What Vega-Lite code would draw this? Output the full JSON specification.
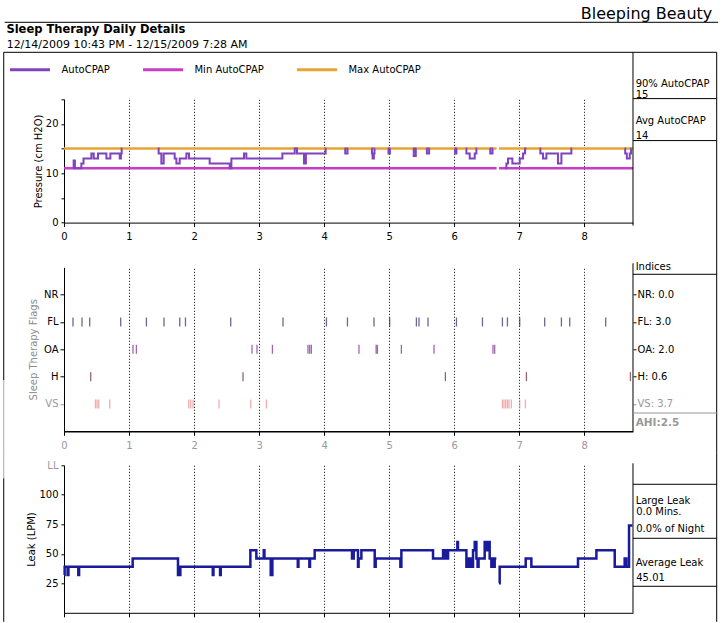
{
  "$schema": "https://vega.github.io/schema/vega-lite/v6.json",
  "padding": {"left": 3, "top": 5.3, "right": 0, "bottom": 0},
  "spacing": -2,
  "config": {
    "font": "DejaVu Sans",
    "view": {"stroke": null},
    "axis": {"domainColor": "black", "tickColor": "black", "labelColor": "black", "titleColor": "black", "labelFontSize": 10, "titleFontSize": 10, "titleFontWeight": "normal", "labelFont": "DejaVu Sans", "titleFont": "DejaVu Sans", "grid": false, "labelFlush": false, "labelOverlap": false},
    "text": {"font": "DejaVu Sans", "fontSize": 10, "align": "left", "baseline": "alphabetic", "color": "black"}
  },
  "resolve": {"scale": {"color": "independent"}, "legend": {"color": "independent"}},
  "datasets": {
    "pressure": [
      {"series": "Min AutoCPAP", "seg": "n1", "t": 0, "p": 11}, {"series": "Min AutoCPAP", "seg": "n1", "t": 6.652, "p": 11},
      {"series": "Min AutoCPAP", "seg": "n2", "t": 6.69, "p": 11}, {"series": "Min AutoCPAP", "seg": "n2", "t": 8.75, "p": 11},
      {"series": "Max AutoCPAP", "seg": "x1", "t": 0, "p": 15}, {"series": "Max AutoCPAP", "seg": "x1", "t": 6.652, "p": 15},
      {"series": "Max AutoCPAP", "seg": "x2", "t": 6.69, "p": 15}, {"series": "Max AutoCPAP", "seg": "x2", "t": 8.75, "p": 15},
      {"series": "AutoCPAP", "seg": "a", "t": 0.139, "p": 11}, {"series": "AutoCPAP", "seg": "a", "t": 0.148, "p": 12.6}, {"series": "AutoCPAP", "seg": "a", "t": 0.168, "p": 11}, {"series": "AutoCPAP", "seg": "a", "t": 0.267, "p": 12}, {"series": "AutoCPAP", "seg": "a", "t": 0.3, "p": 13}, {"series": "AutoCPAP", "seg": "a", "t": 0.421, "p": 14}, {"series": "AutoCPAP", "seg": "a", "t": 0.457, "p": 13}, {"series": "AutoCPAP", "seg": "a", "t": 0.523, "p": 14}, {"series": "AutoCPAP", "seg": "a", "t": 0.652, "p": 13}, {"series": "AutoCPAP", "seg": "a", "t": 0.713, "p": 14}, {"series": "AutoCPAP", "seg": "a", "t": 0.857, "p": 13}, {"series": "AutoCPAP", "seg": "a", "t": 0.875, "p": 14}, {"series": "AutoCPAP", "seg": "a", "t": 0.887, "p": 15}, {"series": "AutoCPAP", "seg": "a", "t": 0.893, "p": 15},
      {"series": "AutoCPAP", "seg": "b", "t": 1.446, "p": 15}, {"series": "AutoCPAP", "seg": "b", "t": 1.455, "p": 14}, {"series": "AutoCPAP", "seg": "b", "t": 1.497, "p": 12}, {"series": "AutoCPAP", "seg": "b", "t": 1.533, "p": 14}, {"series": "AutoCPAP", "seg": "b", "t": 1.702, "p": 13}, {"series": "AutoCPAP", "seg": "b", "t": 1.728, "p": 12}, {"series": "AutoCPAP", "seg": "b", "t": 1.779, "p": 13}, {"series": "AutoCPAP", "seg": "b", "t": 1.882, "p": 14}, {"series": "AutoCPAP", "seg": "b", "t": 1.923, "p": 13}, {"series": "AutoCPAP", "seg": "b", "t": 2.24, "p": 12}, {"series": "AutoCPAP", "seg": "b", "t": 2.548, "p": 11}, {"series": "AutoCPAP", "seg": "b", "t": 2.574, "p": 13}, {"series": "AutoCPAP", "seg": "b", "t": 2.768, "p": 14}, {"series": "AutoCPAP", "seg": "b", "t": 2.804, "p": 13}, {"series": "AutoCPAP", "seg": "b", "t": 3.358, "p": 14}, {"series": "AutoCPAP", "seg": "b", "t": 3.548, "p": 15}, {"series": "AutoCPAP", "seg": "b", "t": 3.583, "p": 14}, {"series": "AutoCPAP", "seg": "b", "t": 3.69, "p": 12}, {"series": "AutoCPAP", "seg": "b", "t": 3.72, "p": 14}, {"series": "AutoCPAP", "seg": "b", "t": 4.024, "p": 15}, {"series": "AutoCPAP", "seg": "b", "t": 4.035, "p": 15},
      {"series": "AutoCPAP", "seg": "c", "t": 4.316, "p": 15}, {"series": "AutoCPAP", "seg": "c", "t": 4.325, "p": 14}, {"series": "AutoCPAP", "seg": "c", "t": 4.36, "p": 15}, {"series": "AutoCPAP", "seg": "c", "t": 4.368, "p": 15},
      {"series": "AutoCPAP", "seg": "d", "t": 4.727, "p": 15}, {"series": "AutoCPAP", "seg": "d", "t": 4.735, "p": 14}, {"series": "AutoCPAP", "seg": "d", "t": 4.745, "p": 13}, {"series": "AutoCPAP", "seg": "d", "t": 4.765, "p": 14}, {"series": "AutoCPAP", "seg": "d", "t": 4.775, "p": 15}, {"series": "AutoCPAP", "seg": "d", "t": 4.78, "p": 15},
      {"series": "AutoCPAP", "seg": "e", "t": 4.982, "p": 15}, {"series": "AutoCPAP", "seg": "e", "t": 4.99, "p": 14}, {"series": "AutoCPAP", "seg": "e", "t": 5.012, "p": 15}, {"series": "AutoCPAP", "seg": "e", "t": 5.019, "p": 15},
      {"series": "AutoCPAP", "seg": "f", "t": 5.367, "p": 15}, {"series": "AutoCPAP", "seg": "f", "t": 5.378, "p": 13.5}, {"series": "AutoCPAP", "seg": "f", "t": 5.41, "p": 15}, {"series": "AutoCPAP", "seg": "f", "t": 5.419, "p": 15},
      {"series": "AutoCPAP", "seg": "g", "t": 5.573, "p": 15}, {"series": "AutoCPAP", "seg": "g", "t": 5.58, "p": 14}, {"series": "AutoCPAP", "seg": "g", "t": 5.615, "p": 15}, {"series": "AutoCPAP", "seg": "g", "t": 5.624, "p": 15},
      {"series": "AutoCPAP", "seg": "h", "t": 6.008, "p": 15}, {"series": "AutoCPAP", "seg": "h", "t": 6.015, "p": 14}, {"series": "AutoCPAP", "seg": "h", "t": 6.035, "p": 15}, {"series": "AutoCPAP", "seg": "h", "t": 6.043, "p": 15},
      {"series": "AutoCPAP", "seg": "i", "t": 6.18, "p": 15}, {"series": "AutoCPAP", "seg": "i", "t": 6.188, "p": 14}, {"series": "AutoCPAP", "seg": "i", "t": 6.239, "p": 13}, {"series": "AutoCPAP", "seg": "i", "t": 6.316, "p": 14}, {"series": "AutoCPAP", "seg": "i", "t": 6.342, "p": 15}, {"series": "AutoCPAP", "seg": "i", "t": 6.35, "p": 15},
      {"series": "AutoCPAP", "seg": "j", "t": 6.546, "p": 15}, {"series": "AutoCPAP", "seg": "j", "t": 6.555, "p": 14}, {"series": "AutoCPAP", "seg": "j", "t": 6.59, "p": 15}, {"series": "AutoCPAP", "seg": "j", "t": 6.597, "p": 15},
      {"series": "AutoCPAP", "seg": "k", "t": 6.787, "p": 11}, {"series": "AutoCPAP", "seg": "k", "t": 6.803, "p": 12}, {"series": "AutoCPAP", "seg": "k", "t": 6.828, "p": 13}, {"series": "AutoCPAP", "seg": "k", "t": 6.895, "p": 12}, {"series": "AutoCPAP", "seg": "k", "t": 7.008, "p": 13}, {"series": "AutoCPAP", "seg": "k", "t": 7.059, "p": 14}, {"series": "AutoCPAP", "seg": "k", "t": 7.09, "p": 15}, {"series": "AutoCPAP", "seg": "k", "t": 7.111, "p": 15},
      {"series": "AutoCPAP", "seg": "l", "t": 7.315, "p": 15}, {"series": "AutoCPAP", "seg": "l", "t": 7.325, "p": 14}, {"series": "AutoCPAP", "seg": "l", "t": 7.366, "p": 13}, {"series": "AutoCPAP", "seg": "l", "t": 7.418, "p": 14}, {"series": "AutoCPAP", "seg": "l", "t": 7.596, "p": 12}, {"series": "AutoCPAP", "seg": "l", "t": 7.649, "p": 14}, {"series": "AutoCPAP", "seg": "l", "t": 7.802, "p": 15}, {"series": "AutoCPAP", "seg": "l", "t": 7.81, "p": 15},
      {"series": "AutoCPAP", "seg": "m", "t": 8.622, "p": 15}, {"series": "AutoCPAP", "seg": "m", "t": 8.63, "p": 14}, {"series": "AutoCPAP", "seg": "m", "t": 8.655, "p": 13}, {"series": "AutoCPAP", "seg": "m", "t": 8.7, "p": 14}, {"series": "AutoCPAP", "seg": "m", "t": 8.72, "p": 15}, {"series": "AutoCPAP", "seg": "m", "t": 8.725, "p": 15}
    ],
    "flags": [
      {"flag": "FL", "t": 0.138}, {"flag": "FL", "t": 0.277}, {"flag": "FL", "t": 0.395}, {"flag": "FL", "t": 0.872}, {"flag": "FL", "t": 1.267}, {"flag": "FL", "t": 1.538}, {"flag": "FL", "t": 1.78}, {"flag": "FL", "t": 1.868}, {"flag": "FL", "t": 2.564}, {"flag": "FL", "t": 3.368}, {"flag": "FL", "t": 4.036}, {"flag": "FL", "t": 4.359}, {"flag": "FL", "t": 4.767}, {"flag": "FL", "t": 5.008}, {"flag": "FL", "t": 5.419}, {"flag": "FL", "t": 5.459}, {"flag": "FL", "t": 5.598}, {"flag": "FL", "t": 6.035}, {"flag": "FL", "t": 6.435}, {"flag": "FL", "t": 6.742}, {"flag": "FL", "t": 6.819}, {"flag": "FL", "t": 7.008}, {"flag": "FL", "t": 7.392}, {"flag": "FL", "t": 7.649}, {"flag": "FL", "t": 7.777}, {"flag": "FL", "t": 8.33},
      {"flag": "OA", "t": 1.061}, {"flag": "OA", "t": 1.113}, {"flag": "OA", "t": 2.891}, {"flag": "OA", "t": 2.968}, {"flag": "OA", "t": 3.205}, {"flag": "OA", "t": 3.752}, {"flag": "OA", "t": 3.778}, {"flag": "OA", "t": 3.804}, {"flag": "OA", "t": 4.536}, {"flag": "OA", "t": 4.8}, {"flag": "OA", "t": 4.82}, {"flag": "OA", "t": 5.188}, {"flag": "OA", "t": 5.69}, {"flag": "OA", "t": 6.597}, {"flag": "OA", "t": 6.623},
      {"flag": "H", "t": 0.411}, {"flag": "H", "t": 2.753}, {"flag": "H", "t": 5.865}, {"flag": "H", "t": 7.111}, {"flag": "H", "t": 8.71},
      {"flag": "VS", "t": 0.483}, {"flag": "VS", "t": 0.508}, {"flag": "VS", "t": 0.534}, {"flag": "VS", "t": 0.703}, {"flag": "VS", "t": 1.918}, {"flag": "VS", "t": 1.949}, {"flag": "VS", "t": 1.984}, {"flag": "VS", "t": 2.384}, {"flag": "VS", "t": 2.872}, {"flag": "VS", "t": 3.113}, {"flag": "VS", "t": 6.742}, {"flag": "VS", "t": 6.766}, {"flag": "VS", "t": 6.792}, {"flag": "VS", "t": 6.819}, {"flag": "VS", "t": 6.843}, {"flag": "VS", "t": 6.88}, {"flag": "VS", "t": 7.008}, {"flag": "VS", "t": 7.096}
    ],
    "leak": [
      {"seg": 1, "t": 0.0, "v": 32}, {"seg": 1, "t": 0.01, "v": 39}, {"seg": 1, "t": 0.055, "v": 32}, {"seg": 1, "t": 0.068, "v": 39}, {"seg": 1, "t": 0.22, "v": 32}, {"seg": 1, "t": 0.232, "v": 39}, {"seg": 1, "t": 1.056, "v": 46}, {"seg": 1, "t": 1.753, "v": 32}, {"seg": 1, "t": 1.789, "v": 39}, {"seg": 1, "t": 2.288, "v": 32}, {"seg": 1, "t": 2.298, "v": 39}, {"seg": 1, "t": 2.4, "v": 32}, {"seg": 1, "t": 2.41, "v": 39}, {"seg": 1, "t": 2.866, "v": 53}, {"seg": 1, "t": 2.958, "v": 46}, {"seg": 1, "t": 3.072, "v": 53}, {"seg": 1, "t": 3.082, "v": 46}, {"seg": 1, "t": 3.179, "v": 32}, {"seg": 1, "t": 3.204, "v": 46}, {"seg": 1, "t": 3.595, "v": 39}, {"seg": 1, "t": 3.605, "v": 46}, {"seg": 1, "t": 3.773, "v": 39}, {"seg": 1, "t": 3.783, "v": 46}, {"seg": 1, "t": 3.855, "v": 53}, {"seg": 1, "t": 4.429, "v": 46}, {"seg": 1, "t": 4.455, "v": 53}, {"seg": 1, "t": 4.521, "v": 39}, {"seg": 1, "t": 4.53, "v": 46}, {"seg": 1, "t": 4.573, "v": 53}, {"seg": 1, "t": 4.778, "v": 39}, {"seg": 1, "t": 4.793, "v": 46}, {"seg": 1, "t": 5.173, "v": 39}, {"seg": 1, "t": 5.188, "v": 53}, {"seg": 1, "t": 5.675, "v": 46}, {"seg": 1, "t": 5.829, "v": 53}, {"seg": 1, "t": 5.838, "v": 46}, {"seg": 1, "t": 5.847, "v": 53}, {"seg": 1, "t": 5.856, "v": 46}, {"seg": 1, "t": 5.866, "v": 53}, {"seg": 1, "t": 5.876, "v": 46}, {"seg": 1, "t": 5.886, "v": 53}, {"seg": 1, "t": 5.896, "v": 46}, {"seg": 1, "t": 5.906, "v": 53}, {"seg": 1, "t": 6.049, "v": 60}, {"seg": 1, "t": 6.058, "v": 53}, {"seg": 1, "t": 6.188, "v": 39}, {"seg": 1, "t": 6.2, "v": 46}, {"seg": 1, "t": 6.212, "v": 39}, {"seg": 1, "t": 6.224, "v": 46}, {"seg": 1, "t": 6.236, "v": 39}, {"seg": 1, "t": 6.25, "v": 46}, {"seg": 1, "t": 6.264, "v": 39}, {"seg": 1, "t": 6.29, "v": 53}, {"seg": 1, "t": 6.316, "v": 60}, {"seg": 1, "t": 6.342, "v": 46}, {"seg": 1, "t": 6.36, "v": 39}, {"seg": 1, "t": 6.375, "v": 46}, {"seg": 1, "t": 6.469, "v": 60}, {"seg": 1, "t": 6.495, "v": 53}, {"seg": 1, "t": 6.52, "v": 60}, {"seg": 1, "t": 6.546, "v": 46}, {"seg": 1, "t": 6.572, "v": 39}, {"seg": 1, "t": 6.582, "v": 46}, {"seg": 1, "t": 6.592, "v": 39}, {"seg": 1, "t": 6.602, "v": 46}, {"seg": 1, "t": 6.612, "v": 39}, {"seg": 1, "t": 6.623, "v": 46}, {"seg": 1, "t": 6.649, "v": 46},
      {"seg": 2, "t": 6.69, "v": 25}, {"seg": 2, "t": 6.7, "v": 39}, {"seg": 2, "t": 7.1, "v": 46}, {"seg": 2, "t": 7.187, "v": 39}, {"seg": 2, "t": 7.904, "v": 46}, {"seg": 2, "t": 8.187, "v": 53}, {"seg": 2, "t": 8.469, "v": 39}, {"seg": 2, "t": 8.622, "v": 46}, {"seg": 2, "t": 8.648, "v": 39}, {"seg": 2, "t": 8.689, "v": 74}, {"seg": 2, "t": 8.74, "v": 74}
    ]
  },
  "vconcat": [
    {
      "width": 569,
      "height": 123.3,
      "layer": [
        {
          "data": {"name": "pressure"},
          "transform": [{"filter": "datum.series !== 'AutoCPAP'"}],
          "mark": {"type": "line", "interpolate": "step-after", "strokeWidth": 2.5},
          "encoding": {
            "x": {"field": "t", "type": "quantitative", "scale": {"domain": [0, 8.75], "nice": false, "zero": false}, "axis": {"values": [0, 1, 2, 3, 4, 5, 6, 7, 8], "tickCount": 30, "format": "d", "labelOverlap": false, "title": null, "grid": true, "gridDash": [1, 2], "gridColor": "black", "gridOpacity": 1, "tickSize": 4, "labelPadding": 5}},
            "y": {"field": "p", "type": "quantitative", "scale": {"domain": [0, 25], "nice": false, "zero": false}, "axis": {"values": [0, 5, 10, 15, 20, 25], "tickCount": 30, "labelOverlap": false, "labelExpr": "datum.value % 10 === 0 ? datum.label : ''", "title": "Pressure (cm H2O)", "tickSize": 3, "labelPadding": 3, "titlePadding": 2}},
            "color": {"field": "series", "type": "nominal", "scale": {"domain": ["AutoCPAP", "Min AutoCPAP", "Max AutoCPAP"], "range": ["#8043bf", "#c93cc6", "#e6a535"]}, "legend": {"title": null, "orient": "none", "legendX": -55.5, "legendY": -51.2, "direction": "horizontal", "symbolType": "stroke", "symbolSize": 1600, "symbolStrokeWidth": 3, "labelOffset": 10, "columnPadding": 26, "labelFontSize": 10, "labelFont": "DejaVu Sans", "labelColor": "black", "padding": 0}},
            "detail": {"field": "seg", "type": "nominal"}
          }
        },
        {
          "data": {"name": "pressure"},
          "transform": [{"filter": "datum.series === 'AutoCPAP'"}],
          "mark": {"type": "line", "interpolate": "step-after", "strokeWidth": 2},
          "encoding": {
            "x": {"field": "t", "type": "quantitative"},
            "y": {"field": "p", "type": "quantitative"},
            "color": {"field": "series", "type": "nominal"},
            "detail": {"field": "seg", "type": "nominal"}
          }
        },
        {"data": {"values": [{}]}, "mark": {"type": "text", "align": "right", "fontSize": 16}, "encoding": {"x": {"datum": 9.969, "type": "quantitative"}, "y": {"datum": 41.3, "type": "quantitative"}, "text": {"value": "Bleeping Beauty"}}},
        {"data": {"values": [{}]}, "mark": {"type": "rule", "color": "black"}, "encoding": {"x": {"datum": -0.912, "type": "quantitative"}, "x2": {"datum": 10.06}, "y": {"datum": 40.61, "type": "quantitative"}}},
        {"data": {"values": [{}]}, "mark": {"type": "text", "fontSize": 11.5, "fontWeight": "bold"}, "encoding": {"x": {"datum": -0.886, "type": "quantitative"}, "y": {"datum": 38.38, "type": "quantitative"}, "text": {"value": "Sleep Therapy Daily Details"}}},
        {"data": {"values": [{}]}, "mark": {"type": "text", "fontSize": 11}, "encoding": {"x": {"datum": -0.882, "type": "quantitative"}, "y": {"datum": 35.34, "type": "quantitative"}, "text": {"value": "12/14/2009 10:43 PM - 12/15/2009 7:28 AM"}}},
        {"data": {"values": [{}]}, "mark": {"type": "rule", "color": "black"}, "encoding": {"x": {"datum": -0.927, "type": "quantitative"}, "x2": {"datum": 10.037}, "y": {"datum": 34.53, "type": "quantitative"}}},
        {"data": {"values": [{}]}, "mark": {"type": "rule", "color": "black"}, "encoding": {"x": {"datum": -0.927, "type": "quantitative"}, "y": {"datum": 34.53, "type": "quantitative"}, "y2": {"datum": -5.68}}},
        {"data": {"values": [{}]}, "mark": {"type": "rule", "color": "black"}, "encoding": {"x": {"datum": 10.037, "type": "quantitative"}, "y": {"datum": 34.53, "type": "quantitative"}, "y2": {"datum": -5.68}}},
        {"data": {"values": [{}]}, "mark": {"type": "rule", "color": "black"}, "encoding": {"x": {"datum": 8.75, "type": "quantitative"}, "y": {"datum": 34.53, "type": "quantitative"}, "y2": {"datum": -0.61}}},
        {"data": {"values": [{}]}, "mark": {"type": "rule", "color": "black"}, "encoding": {"x": {"datum": 8.75, "type": "quantitative"}, "x2": {"datum": 10.037}, "y": {"datum": 25.14, "type": "quantitative"}}},
        {"data": {"values": [{}]}, "mark": {"type": "rule", "color": "black"}, "encoding": {"x": {"datum": 8.75, "type": "quantitative"}, "x2": {"datum": 10.037}, "y": {"datum": 16.63, "type": "quantitative"}}},
        {"data": {"values": [{}]}, "mark": {"type": "text"}, "encoding": {"x": {"datum": 8.791, "type": "quantitative"}, "y": {"datum": 27.57, "type": "quantitative"}, "text": {"value": "90% AutoCPAP"}}},
        {"data": {"values": [{}]}, "mark": {"type": "text"}, "encoding": {"x": {"datum": 8.791, "type": "quantitative"}, "y": {"datum": 25.35, "type": "quantitative"}, "text": {"value": "15"}}},
        {"data": {"values": [{}]}, "mark": {"type": "text"}, "encoding": {"x": {"datum": 8.791, "type": "quantitative"}, "y": {"datum": 20.07, "type": "quantitative"}, "text": {"value": "Avg AutoCPAP"}}},
        {"data": {"values": [{}]}, "mark": {"type": "text"}, "encoding": {"x": {"datum": 8.791, "type": "quantitative"}, "y": {"datum": 17.03, "type": "quantitative"}, "text": {"value": "14"}}}
      ]
    },
    {
      "width": 569,
      "height": 164,
      "resolve": {"scale": {"y": "independent"}},
      "layer": [
        {
          "data": {"name": "flags"},
          "mark": {"type": "tick", "size": 9, "thickness": 1.3},
          "encoding": {
            "x": {"field": "t", "type": "quantitative", "scale": {"domain": [0, 8.75], "nice": false, "zero": false}, "axis": {"values": [0, 1, 2, 3, 4, 5, 6, 7, 8], "tickCount": 30, "format": "d", "labelOverlap": false, "title": null, "grid": true, "gridDash": [1, 2], "gridColor": "black", "gridOpacity": 1, "tickSize": 4, "labelPadding": 5, "labelColor": "#999999", "domainWidth": 1.5}},
            "y": {"field": "flag", "type": "nominal", "scale": {"type": "point", "domain": ["NR", "FL", "OA", "H", "VS"], "padding": 1}, "axis": {"title": "Sleep Therapy Flags", "titleColor": "#8c8c8c", "titlePadding": 5, "tickSize": 4, "labelPadding": 2, "labelColor": {"condition": {"test": "datum.value === 'VS'", "value": "#999999"}, "value": "black"}, "tickColor": {"condition": {"test": "datum.value === 'VS'", "value": "#999999"}, "value": "black"}}},
            "color": {"field": "flag", "type": "nominal", "scale": {"domain": ["NR", "FL", "OA", "H", "VS"], "range": ["#000000", "#2d2868", "#74288a", "#6a2424", "#ec8a8a"]}, "legend": null}
          }
        },
        {
          "layer": [
            {"data": {"values": [{}]}, "mark": {"type": "rule", "color": "black"}, "encoding": {"x": {"datum": -0.927, "type": "quantitative"}, "y": {"datum": 6.622, "type": "quantitative", "scale": {"domain": [0, 6], "nice": false, "zero": false}, "axis": {"orient": "right", "values": [1, 2, 3, 4, 5], "tickCount": 30, "labelOverlap": false, "title": null, "domain": false, "tickSize": 3, "labelPadding": 1, "labelExpr": "datum.value === 5 ? 'NR: 0.0' : datum.value === 4 ? 'FL: 3.0' : datum.value === 3 ? 'OA: 2.0' : datum.value === 2 ? 'H: 0.6' : 'VS: 3.7'", "labelColor": {"condition": {"test": "datum.value === 1", "value": "#999999"}, "value": "black"}, "tickColor": {"condition": {"test": "datum.value === 1", "value": "#999999"}, "value": "black"}}}, "y2": {"datum": 1.865}}},
            {"data": {"values": [{}]}, "mark": {"type": "rule", "color": "#aaaaaa"}, "encoding": {"x": {"datum": -0.927, "type": "quantitative"}, "y": {"datum": 1.865, "type": "quantitative"}, "y2": {"datum": -0.769}}},
            {"data": {"values": [{}]}, "mark": {"type": "rule", "color": "black"}, "encoding": {"x": {"datum": 10.037, "type": "quantitative"}, "y": {"datum": 6.622, "type": "quantitative"}, "y2": {"datum": -0.769}}},
            {"data": {"values": [{}]}, "mark": {"type": "rule", "color": "black"}, "encoding": {"x": {"datum": 8.75, "type": "quantitative"}, "y": {"datum": 6.146, "type": "quantitative"}, "y2": {"datum": 0}}},
            {"data": {"values": [{}]}, "mark": {"type": "rule", "color": "black"}, "encoding": {"x": {"datum": 8.75, "type": "quantitative"}, "x2": {"datum": 10.037}, "y": {"datum": 5.744, "type": "quantitative"}}},
            {"data": {"values": [{}]}, "mark": {"type": "rule", "color": "#999999"}, "encoding": {"x": {"datum": 8.75, "type": "quantitative"}, "x2": {"datum": 10.037}, "y": {"datum": 0.669, "type": "quantitative"}}},
            {"data": {"values": [{}]}, "mark": {"type": "text"}, "encoding": {"x": {"datum": 8.791, "type": "quantitative"}, "y": {"datum": 5.916, "type": "quantitative"}, "text": {"value": "Indices"}}},
            {"data": {"values": [{}]}, "mark": {"type": "text", "fontWeight": "bold", "fontSize": 10.5, "color": "#999999"}, "encoding": {"x": {"datum": 8.791, "type": "quantitative"}, "y": {"datum": 0.182, "type": "quantitative"}, "text": {"value": "AHI:2.5"}}}
          ]
        }
      ]
    },
    {
      "width": 569,
      "height": 147.5,
      "layer": [
        {
          "data": {"name": "leak"},
          "mark": {"type": "line", "interpolate": "step-after", "strokeWidth": 2.5, "color": "#1a1a9c"},
          "encoding": {
            "x": {"field": "t", "type": "quantitative", "scale": {"domain": [0, 8.75], "nice": false, "zero": false}, "axis": {"values": [0, 1, 2, 3, 4, 5, 6, 7, 8], "tickCount": 30, "title": null, "labels": false, "grid": true, "gridDash": [1, 2], "gridColor": "black", "gridOpacity": 1, "tickSize": 4}},
            "y": {"field": "v", "type": "quantitative", "scale": {"domain": [0, 125], "nice": false, "zero": false}, "axis": {"values": [25, 50, 75, 100, 125], "tickCount": 30, "labelOverlap": false, "labelExpr": "datum.value === 125 ? 'LL' : datum.label", "labelColor": {"condition": {"test": "datum.value === 125", "value": "#999999"}, "value": "black"}, "title": "Leak (LPM)", "tickSize": 3, "labelPadding": 3, "titlePadding": 2}},
            "detail": {"field": "seg", "type": "nominal"}
          }
        },
        {"data": {"values": [{}]}, "mark": {"type": "rule", "color": "#aaaaaa"}, "encoding": {"x": {"datum": -0.927, "type": "quantitative"}, "y": {"datum": 136.02, "type": "quantitative"}, "y2": {"datum": 113.98}}},
        {"data": {"values": [{}]}, "mark": {"type": "rule", "color": "black"}, "encoding": {"x": {"datum": -0.927, "type": "quantitative"}, "y": {"datum": 113.98, "type": "quantitative"}, "y2": {"datum": -7.63}}},
        {"data": {"values": [{}]}, "mark": {"type": "rule", "color": "black"}, "encoding": {"x": {"datum": 10.037, "type": "quantitative"}, "y": {"datum": 136.02, "type": "quantitative"}, "y2": {"datum": -7.63}}},
        {"data": {"values": [{}]}, "mark": {"type": "rule", "color": "black"}, "encoding": {"x": {"datum": 8.75, "type": "quantitative"}, "y": {"datum": 126.69, "type": "quantitative"}, "y2": {"datum": 0}}},
        {"data": {"values": [{}]}, "mark": {"type": "rule", "color": "black"}, "encoding": {"x": {"datum": 8.75, "type": "quantitative"}, "x2": {"datum": 10.037}, "y": {"datum": 108.9, "type": "quantitative"}}},
        {"data": {"values": [{}]}, "mark": {"type": "rule", "color": "black"}, "encoding": {"x": {"datum": 8.75, "type": "quantitative"}, "x2": {"datum": 10.037}, "y": {"datum": 63.14, "type": "quantitative"}}},
        {"data": {"values": [{}]}, "mark": {"type": "rule", "color": "black"}, "encoding": {"x": {"datum": 8.75, "type": "quantitative"}, "x2": {"datum": 10.037}, "y": {"datum": 22.46, "type": "quantitative"}}},
        {"data": {"values": [{}]}, "mark": {"type": "text"}, "encoding": {"x": {"datum": 8.791, "type": "quantitative"}, "y": {"datum": 91.95, "type": "quantitative"}, "text": {"value": "Large Leak"}}},
        {"data": {"values": [{}]}, "mark": {"type": "text"}, "encoding": {"x": {"datum": 8.8, "type": "quantitative"}, "y": {"datum": 83.0, "type": "quantitative"}, "text": {"value": "0.0 Mins."}}},
        {"data": {"values": [{}]}, "mark": {"type": "text"}, "encoding": {"x": {"datum": 8.8, "type": "quantitative"}, "y": {"datum": 68.22, "type": "quantitative"}, "text": {"value": "0.0% of Night"}}},
        {"data": {"values": [{}]}, "mark": {"type": "text"}, "encoding": {"x": {"datum": 8.791, "type": "quantitative"}, "y": {"datum": 39.41, "type": "quantitative"}, "text": {"value": "Average Leak"}}},
        {"data": {"values": [{}]}, "mark": {"type": "text"}, "encoding": {"x": {"datum": 8.8, "type": "quantitative"}, "y": {"datum": 26.95, "type": "quantitative"}, "text": {"value": "45.01"}}}
      ]
    }
  ]
}
